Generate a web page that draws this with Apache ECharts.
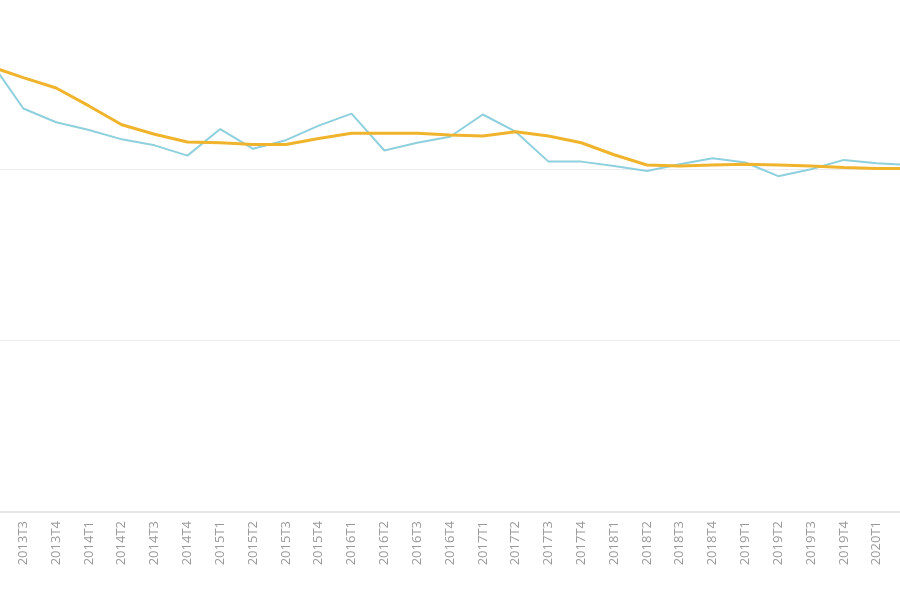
<!DOCTYPE html>
<html>
<head>
<meta charset="utf-8">
<script src="https://cdn.jsdelivr.net/npm/echarts@6/dist/echarts.min.js"></script>
<style>html,body{margin:0;padding:0;background:#fff;overflow:hidden}
#chart{position:absolute;left:-16px;top:-4px;width:932px;height:604px}</style>
</head>
<body>
<div id="chart"></div>
<script>
var categories = ['2013T2','2013T3','2013T4','2014T1','2014T2','2014T3','2014T4','2015T1','2015T2','2015T3','2015T4',
  '2016T1','2016T2','2016T3','2016T4','2017T1','2017T2','2017T3','2017T4','2018T1','2018T2','2018T3','2018T4',
  '2019T1','2019T2','2019T3','2019T4','2020T1','2020T2'];
var blueValues = [52.6,47.1,45.5,44.6,43.5,42.8,41.6,44.7,42.4,43.4,45.1,46.5,42.2,43.1,43.8,46.4,44.4,40.9,40.9,
  40.4,39.8,40.6,41.3,40.8,39.2,40.0,41.1,40.7,40.5];
var orangeValues = [52.0,50.7,49.5,47.4,45.2,44.1,43.2,43.1,42.9,42.9,43.6,44.2,44.2,44.2,44.0,43.9,44.4,43.9,43.1,
  41.7,40.5,40.4,40.5,40.6,40.5,40.4,40.2,40.1,40.1];

var chart = echarts.init(document.getElementById('chart'));
chart.setOption({
  animation: false,
  grid: {left: 0, right: 0, top: 2, bottom: 88, containLabel: false},
  xAxis: {
    type: 'category',
    data: categories,
    boundaryGap: false,
    axisLine: {lineStyle: {color: '#e6e6e6', width: 2}},
    axisTick: {show: false},
    axisLabel: {rotate: 90, color: '#999', fontSize: 13, fontFamily: 'Open Sans', interval: 0, margin: 9}
  },
  yAxis: {
    type: 'value',
    min: 0, max: 60, interval: 20,
    axisLabel: {show: false},
    axisLine: {show: false},
    axisTick: {show: false},
    splitLine: {lineStyle: {color: '#ececec', width: 1}}
  },
  series: [
    {type: 'line', data: blueValues, symbol: 'none', lineStyle: {color: '#8fd0dd', width: 2}},
    {type: 'line', data: orangeValues, symbol: 'none', lineStyle: {color: '#f0b32c', width: 3}}
  ]
});
</script>
</body>
</html>
